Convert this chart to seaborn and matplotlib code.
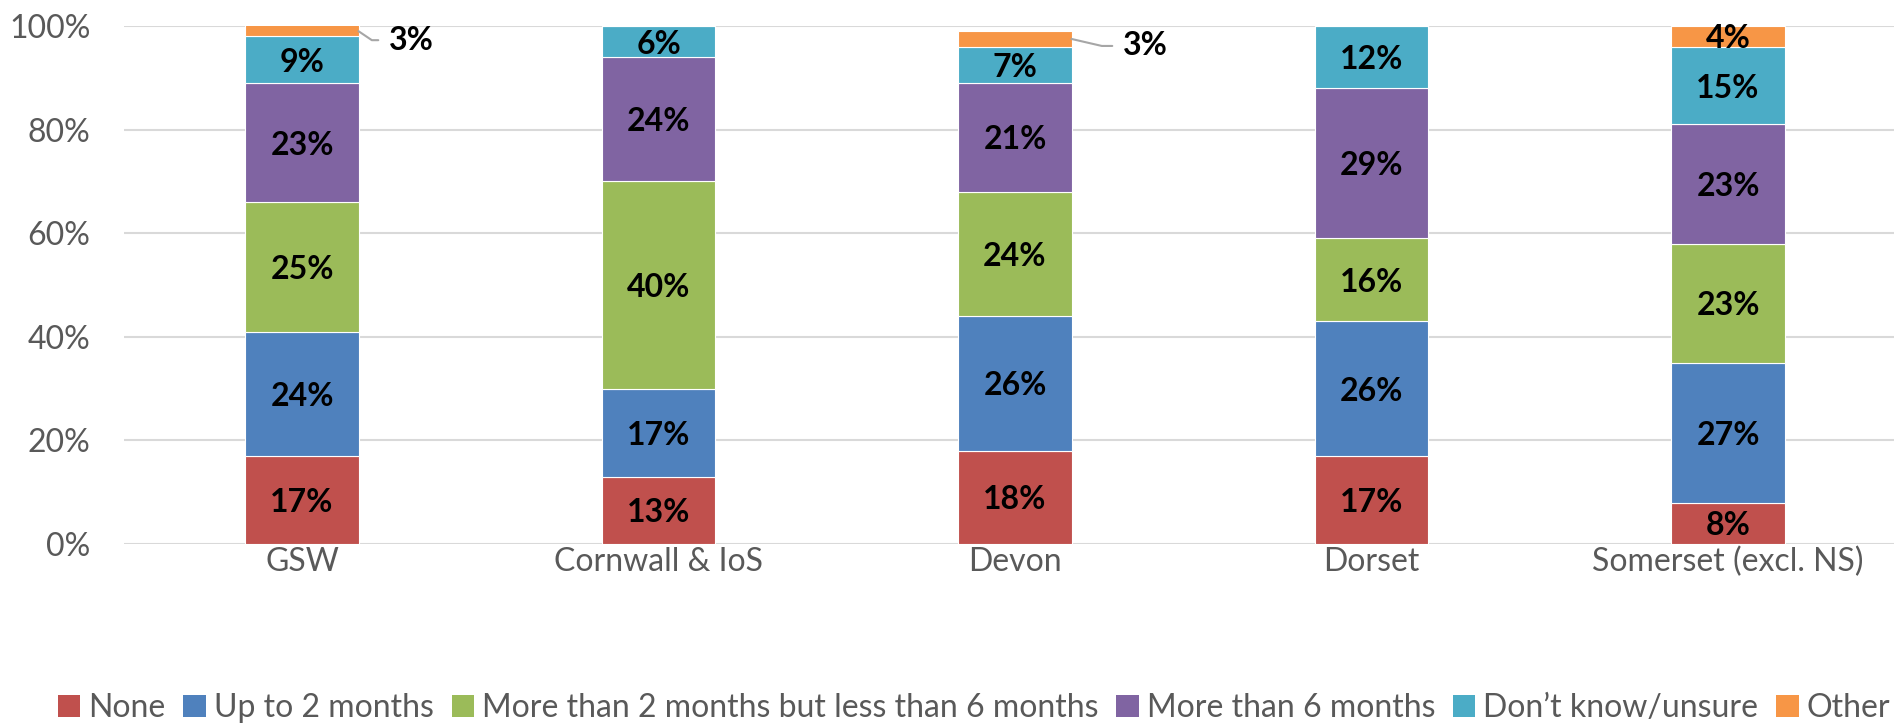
import numpy as np
import seaborn as sns
import matplotlib.pyplot as plt
from matplotlib.patches import Patch

# survey areas and answer groups
areas = ["GSW", "Cornwall & IoS", "Devon", "Dorset", "Somerset (excl. NS)"]
groups = ["None", "Up to 2 months", "More than 2 months but less than 6 months",
          "More than 6 months", "Don\u2019t know/unsure", "Other"]

# percentages per answer, one value per area
none = [17, 13, 18, 17, 8]
up_to_2 = [24, 17, 26, 26, 27]
two_to_6 = [25, 40, 24, 16, 23]
over_6 = [23, 24, 21, 29, 23]
unsure = [9, 6, 7, 12, 15]
other = [3, 0, 3, 0.3, 4]

colors = ["#C0504D", "#4F81BD", "#9BBB59", "#8064A2", "#4BACC6", "#F79646"]

# labels pulled out of the bar with a leader line: (area, group) -> (dx px, dy px, angle)
outside = {("GSW", "Other"): (30, -9, -34), ("Devon", "Other"): (51, -7, -13)}

sns.set_theme(style="white")
plt.rcParams["font.family"] = ["Lato", "DejaVu Sans"]

fig = plt.figure(figsize=(18.94, 7.23), dpi=100)
ax = fig.add_axes([123.75 / 1894, 179 / 723, 1782.5 / 1894, 518 / 723])

series = [none, up_to_2, two_to_6, over_6, unsure, other]
bottom = np.zeros(len(areas))
for name, vals, col in zip(groups, series, colors):
    vals = np.array(vals, dtype=float)
    sns.barplot(x=areas, y=vals, bottom=bottom, color=col, width=0.317,
                saturation=1, edgecolor="white", linewidth=0.8, ax=ax, zorder=3)
    for i, (b, v) in enumerate(zip(bottom, vals)):
        if v < 1:
            continue
        top = min(b + v, 100)
        mid = (b + top) / 2
        label = f"{v:.0f}%"
        key = (areas[i], name)
        if key in outside:
            dx, dy, ang = outside[key]
            ax.annotate(label, xy=(i + 0.317 / 2, mid), xytext=(dx, dy),
                        textcoords="offset pixels", ha="left", va="center",
                        fontsize=23, fontweight="bold", color="black",
                        arrowprops=dict(arrowstyle="-", color="#a6a6a6", lw=1.5,
                                        relpos=(0, 0.5), shrinkA=5, shrinkB=0,
                                        connectionstyle=f"angle,angleA=0,angleB={ang},rad=0"))
        else:
            ax.text(i, mid, label, ha="center", va="center_baseline", fontsize=23,
                    fontweight="bold", color="black", zorder=4)
    bottom = bottom + vals

ax.set_ylim(0, 100)
ax.set_xlim(-0.5, len(areas) - 0.5)
ax.set_yticks(range(0, 101, 20))
ax.set_yticklabels([f"{t}%" for t in range(0, 101, 20)])
ax.yaxis.grid(True, color="#d9d9d9", linewidth=1.5, zorder=0)
ax.set_axisbelow(True)
for s in ax.spines.values():
    s.set_visible(False)
ax.tick_params(axis="y", length=0, pad=24, labelsize=23, labelcolor="#595959")
ax.tick_params(axis="x", length=0, pad=2, labelsize=23, labelcolor="#595959")
ax.set_xlabel("")
ax.set_ylabel("")

handles = [Patch(facecolor=c, edgecolor="none") for c in colors]
fig.legend(handles, groups, loc="center left", bbox_to_anchor=(58 / 1894, 1 - 708 / 723),
           ncol=6, frameon=False, fontsize=23, handlelength=0.7, handleheight=0.7,
           handletextpad=0.25, columnspacing=0.56, borderpad=0, borderaxespad=0,
           labelcolor="#595959")

fig.savefig("out.png", dpi=100)
